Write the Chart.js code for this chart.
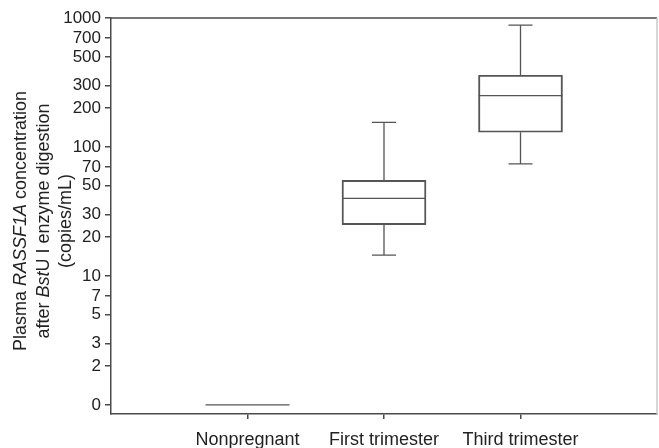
<!DOCTYPE html>
<html>
<head>
<meta charset="utf-8">
<script src="https://cdn.jsdelivr.net/npm/chart.js@4"></script>
<style>
  html, body { margin: 0; padding: 0; background: #fff; }
  #wrap { width: 659px; height: 448px; }
</style>
</head>
<body>
<div id="wrap"><canvas id="grafico" width="659" height="448"></canvas></div>
<script>
// groups and box values (copies/mL)
const categorias = ['Nonpregnant', 'First trimester', 'Third trimester']
const minimos = [0, 14.5, 74]
const quartil1 = [0, 25, 130]
const medianas = [0, 40, 250]
const quartil3 = [0, 55, 360]
const maximos = [0, 155, 880]
const yTicks = [0, 2, 3, 5, 7, 10, 20, 30, 50, 70, 100, 200, 300, 500, 700, 1000]

// the log axis has a break: 0 is drawn where 1 would be
const ZERO_AT = 1
const pos = v => (v === 0 ? ZERO_AT : v)

const LINHA = '#4a4a4a'
const CAIXA = '#555'
const TEXTO = '#222'
const FONTE = "'Liberation Sans', Arial, sans-serif"

const caixas = categorias.map((c, i) => ({
    x: i + 1,
    y: quartil1[i] === quartil3[i] ? null : [pos(quartil1[i]), pos(quartil3[i])]
}))

// whiskers, caps and medians drawn on top of the floating bars
const bigodes = {
    id: 'bigodes',
    afterDatasetsDraw(chart) {
        const ctx = chart.ctx
        const xs = chart.scales.x
        const ys = chart.scales.y
        const larguraCaixa = 84
        const larguraCap = 24
        ctx.save()
        ctx.strokeStyle = CAIXA
        ctx.lineWidth = 1.3
        categorias.forEach((c, i) => {
            const cx = xs.getPixelForValue(i + 1)
            const yMin = ys.getPixelForValue(pos(minimos[i]))
            const yMax = ys.getPixelForValue(pos(maximos[i]))
            const yQ1 = ys.getPixelForValue(pos(quartil1[i]))
            const yQ3 = ys.getPixelForValue(pos(quartil3[i]))
            const yMed = ys.getPixelForValue(pos(medianas[i]))
            ctx.beginPath()
            if (maximos[i] !== quartil3[i]) {
                ctx.moveTo(cx, yQ3); ctx.lineTo(cx, yMax)
                ctx.moveTo(cx - larguraCap / 2, yMax); ctx.lineTo(cx + larguraCap / 2, yMax)
            }
            if (minimos[i] !== quartil1[i]) {
                ctx.moveTo(cx, yQ1); ctx.lineTo(cx, yMin)
                ctx.moveTo(cx - larguraCap / 2, yMin); ctx.lineTo(cx + larguraCap / 2, yMin)
            }
            ctx.moveTo(cx - larguraCaixa / 2, yMed); ctx.lineTo(cx + larguraCaixa / 2, yMed)
            ctx.stroke()
        })
        ctx.restore()
    }
}

// top and right frame lines
const moldura = {
    id: 'moldura',
    afterDraw(chart) {
        const a = chart.chartArea
        const ctx = chart.ctx
        ctx.save()
        ctx.lineWidth = 1.5
        ctx.strokeStyle = LINHA
        ctx.beginPath()
        ctx.moveTo(a.left, a.top); ctx.lineTo(a.right, a.top)
        ctx.stroke()
        ctx.strokeStyle = '#c8c8c8'
        ctx.beginPath()
        ctx.moveTo(a.right, a.top); ctx.lineTo(a.right, a.bottom)
        ctx.stroke()
        ctx.restore()
    }
}

// y title with italic gene / enzyme names
const tituloY = {
    id: 'tituloY',
    afterDraw(chart) {
        const ctx = chart.ctx
        const linhas = [
            [['Plasma ', false], ['RASSF1A', true], [' concentration', false]],
            [['after ', false], ['Bst', true], ['U I enzyme digestion', false]],
            [['(copies/mL)', false]]
        ]
        const bases = [26, 48.5, 71]
        const centro = 221
        ctx.save()
        ctx.fillStyle = TEXTO
        ctx.textBaseline = 'alphabetic'
        linhas.forEach((partes, k) => {
            let total = 0
            partes.forEach(p => {
                ctx.font = (p[1] ? 'italic ' : '') + '18px ' + FONTE
                total += ctx.measureText(p[0]).width
            })
            ctx.save()
            ctx.translate(bases[k], centro)
            ctx.rotate(-Math.PI / 2)
            let x = -total / 2
            partes.forEach(p => {
                ctx.font = (p[1] ? 'italic ' : '') + '18px ' + FONTE
                ctx.textAlign = 'left'
                ctx.fillText(p[0], x, 0)
                x += ctx.measureText(p[0]).width
            })
            ctx.restore()
        })
        ctx.restore()
    }
}

const ctx1 = document.getElementById('grafico').getContext('2d')

new Chart(ctx1, {
    type: 'bar',
    data: {
        datasets: [{
            data: caixas,
            backgroundColor: 'rgba(0,0,0,0)',
            borderColor: CAIXA,
            borderWidth: 1.3,
            borderSkipped: false,
            barThickness: 84
        }]
    },
    options: {
        responsive: false,
        animation: false,
        events: [],
        layout: { padding: { left: 0, right: 2, top: 18, bottom: 0 } },
        plugins: {
            legend: { display: false },
            tooltip: { enabled: false }
        },
        scales: {
            x: {
                type: 'linear',
                min: 0,
                max: 4,
                offset: false,
                afterBuildTicks: scale => {
                    scale.ticks = categorias.map((c, i) => ({ value: i + 1 }))
                },
                afterFit: scale => { scale.height = 34 },
                border: { display: true, color: LINHA, width: 1.5 },
                grid: { offset: false, drawOnChartArea: false, color: LINHA, lineWidth: 1.5, tickLength: 5 },
                ticks: {
                    autoSkip: false,
                    maxRotation: 0,
                    padding: 10,
                    color: TEXTO,
                    font: { family: FONTE, size: 18 },
                    callback: (v, i) => categorias[i]
                }
            },
            y: {
                type: 'logarithmic',
                min: 0.85,
                max: 1000,
                afterBuildTicks: scale => {
                    scale.ticks = yTicks.map(v => ({ value: pos(v) }))
                },
                afterFit: scale => { scale.width = 111 },
                border: { display: true, color: LINHA, width: 1.5 },
                grid: { drawOnChartArea: false, color: LINHA, lineWidth: 1.5, tickLength: 6 },
                ticks: {
                    autoSkip: false,
                    padding: 4,
                    color: TEXTO,
                    font: { family: FONTE, size: 17 },
                    callback: (v, i) => String(yTicks[i])
                }
            }
        }
    },
    plugins: [bigodes, moldura, tituloY]
})
</script>
</body>
</html>
